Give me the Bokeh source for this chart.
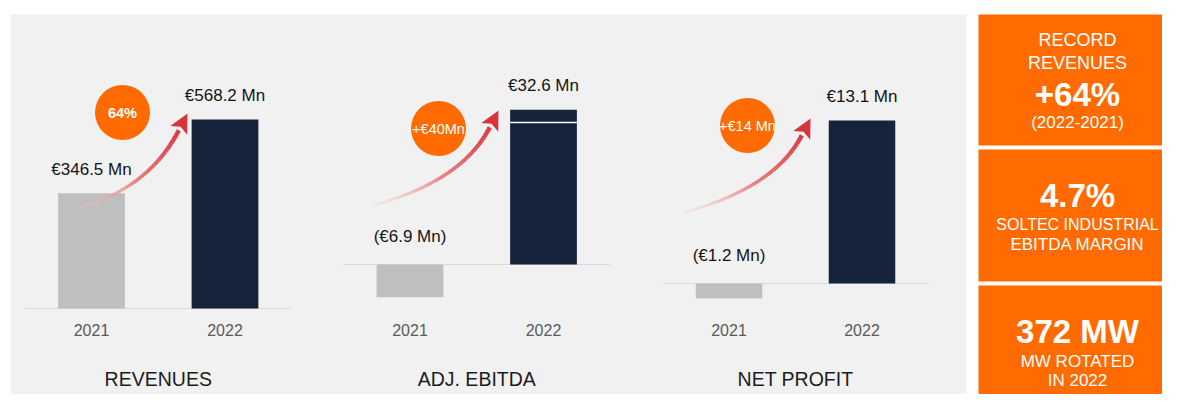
import numpy as np
from bokeh.plotting import figure
from bokeh.models import Range1d
from bokeh.core.properties import value
from bokeh.embed import file_html
from bokeh.resources import INLINE

# ---------------- data ----------------
years = ["2021", "2022"]
revenues = [346.5, 568.2]
adj_ebitda = [-6.9, 32.6]
net_profit = [-1.2, 13.1]
ebitda_2022_split = 29.9
metric_titles = ["REVENUES", "ADJ. EBITDA", "NET PROFIT"]
change_labels = ["64%", "+€40Mn", "+€14 Mn"]
kpi_lines = [
    ["RECORD", "REVENUES", "+64%", "(2022-2021)"],
    ["4.7%", "SOLTEC INDUSTRIAL", "EBITDA MARGIN"],
    ["372 MW", "MW ROTATED", "IN 2022"],
]


def fmt(v):
    return f"€{v:.1f} Mn" if v >= 0 else f"(€{abs(v):.1f} Mn)"


# ---------------- styles / layout ----------------
FONT = value("Liberation Sans")
BG = "#f1f1f1"
ORANGE = "#ff6b00"
GREY_BAR = "#bfbfbf"
NAVY = "#15233b"
W, H = 1162, 394
X0, Y0 = 0, 0  # picture offset of the canvas

panels = [
    dict(values=revenues, c1=91.0, pitch=133.5, base=308.0, scale=0.3325,
         circle=(122, 112), tail=(78, 207), tip=(187, 113)),
    dict(values=adj_ebitda, c1=409.5, pitch=133.5, base=264.0, scale=4.75,
         circle=(438, 128), tail=(372, 205), tip=(498, 110)),
    dict(values=net_profit, c1=728.5, pitch=133.0, base=283.0, scale=12.45,
         circle=(747, 125), tail=(683, 212), tip=(810, 118)),
]

p = figure(width=W, height=H,
           x_range=Range1d(X0, X0 + W), y_range=Range1d(Y0 + H, Y0),
           output_backend="svg", toolbar_location=None, min_border=0,
           x_axis_location=None, y_axis_location=None,
           background_fill_color="white", border_fill_color="white",
           outline_line_color=None)
p.grid.visible = False

# background panel and KPI boxes
p.quad(left=[10], right=[966], top=[14], bottom=[420], color=BG, line_color=None)
p.quad(left=[978] * 3, right=[1182] * 3, top=[14, 149, 285], bottom=[145, 281, 420],
       color=ORANGE, line_color=None)

xr, yr = {}, {}
for i, cfg in enumerate(panels):
    c1, pitch, B, s = cfg["c1"], cfg["pitch"], cfg["base"], cfg["scale"]
    xr[f"x{i}"] = Range1d(start=-(c1 - X0) / pitch, end=(X0 + W - c1) / pitch)
    yr[f"y{i}"] = Range1d(start=-(Y0 + H - B) / s, end=(B - Y0) / s)
p.extra_x_ranges = xr
p.extra_y_ranges = yr


def draw_arrow(tail, tip):
    tail = np.array(tail, float)
    tip = np.array(tip, float)
    d = np.array([0.46, -0.89]); d /= np.linalg.norm(d)
    u = np.array([1.0, -0.27]); u /= np.linalg.norm(u)
    head_len, half_w = 19.0, 9.5
    base = tip - head_len * d
    A = np.column_stack([u, d])
    m, k = np.linalg.solve(A, base - tail)
    ctrl = tail + m * u
    t = np.linspace(0, 1, 61)
    pts = ((1 - t) ** 2)[:, None] * tail + (2 * (1 - t) * t)[:, None] * ctrl + (t ** 2)[:, None] * base
    tm = (t[:-1] + t[1:]) / 2
    c0 = np.array([248, 214, 198]); c1 = np.array([214, 46, 56])
    cols = []
    for tt in tm:
        c = c0 + (c1 - c0) * min(1.0, tt ** 0.8)
        cols.append("#%02x%02x%02x" % tuple(int(round(v)) for v in c))
    alphas = np.clip(0.25 + 1.6 * tm, 0, 1)
    widths = 2.5 + 2.0 * tm
    p.segment(x0=pts[:-1, 0], y0=pts[:-1, 1], x1=pts[1:, 0], y1=pts[1:, 1],
              line_color=cols, line_alpha=alphas, line_width=widths, line_cap="butt")
    n = np.array([-d[1], d[0]])
    notch = base + 4.0 * d
    hx = [tip[0], (base + half_w * n)[0], notch[0], (base - half_w * n)[0]]
    hy = [tip[1], (base + half_w * n)[1], notch[1], (base - half_w * n)[1]]
    p.patch(hx, hy, color="#d8343c", line_color=None)


for i, cfg in enumerate(panels):
    xn, yn = f"x{i}", f"y{i}"
    vals = cfg["values"]
    s = cfg["scale"]
    xs = list(range(len(years)))
    # baseline
    p.segment(x0=[-0.5], y0=[0], x1=[1.5], y1=[0], line_color="#dadada", line_width=1,
              x_range_name=xn, y_range_name=yn)
    # bars
    p.vbar(x=xs, top=vals, bottom=0, width=0.5, fill_color=[GREY_BAR, NAVY],
           line_color=None, x_range_name=xn, y_range_name=yn)
    if i == 1:
        p.segment(x0=[0.75], y0=[ebitda_2022_split], x1=[1.25], y1=[ebitda_2022_split],
                  line_color="white", line_width=1.5, x_range_name=xn, y_range_name=yn)
    # value labels
    ly = [v + 24 / s if v >= 0 else 28 / s for v in vals]
    p.text(x=xs, y=ly, text=[fmt(v) for v in vals], text_align="center",
           text_baseline="middle", text_font=FONT, text_font_size="17px",
           text_color="#141414", x_range_name=xn, y_range_name=yn)
    # category labels (x through panel scale, y in layout pixels)
    p.text(x=xs, y=[329, 329], text=years, text_align="center", text_baseline="middle",
           text_font=FONT, text_font_size="16px", text_color="#5a5a5a", x_range_name=xn)
    # title
    p.text(x=[0.5], y=[378], text=[metric_titles[i]], text_align="center",
           text_baseline="middle", text_font=FONT, text_font_size="19.5px",
           text_color="#1c1c1c", x_range_name=xn)
    # arrow
    draw_arrow(cfg["tail"], cfg["tip"])
    # change bubble
    cx, cy = cfg["circle"]
    p.scatter(x=[cx], y=[cy], size=55, marker="circle", fill_color=ORANGE, line_color=None)
    p.text(x=[cx], y=[cy], text=[change_labels[i]], text_align="center",
           text_baseline="middle", text_font=FONT, text_font_size="14.5px",
           text_font_style="bold" if i == 0 else "normal", text_color="white")

# KPI texts
kpi_y = [[39, 62, 94, 122], [195, 224, 244], [331, 361, 380]]
kpi_size = [["18px", "18px", "33px", "17px"], ["33px", "16px", "17px"], ["33px", "17px", "17px"]]
kpi_bold = [[False, False, True, False], [True, False, False], [True, False, False]]
for lines, ys, sizes, bolds in zip(kpi_lines, kpi_y, kpi_size, kpi_bold):
    for txt, y, sz, b in zip(lines, ys, sizes, bolds):
        p.text(x=[1077], y=[y], text=[txt], text_align="center", text_baseline="middle",
               text_font=FONT, text_font_size=sz,
               text_font_style="bold" if b else "normal", text_color="white")

open("out.html", "w").write(file_html(p, INLINE))
